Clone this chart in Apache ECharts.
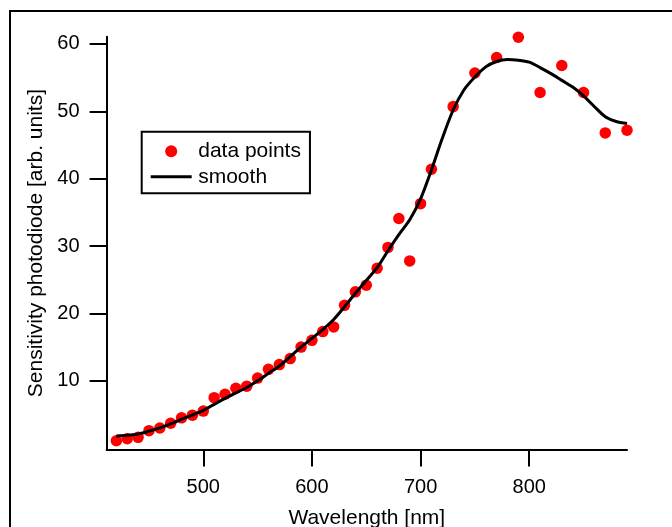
<!DOCTYPE html>
<html>
<head>
<meta charset="utf-8">
<script src="https://cdn.jsdelivr.net/npm/echarts@6/dist/echarts.min.js"></script>
<style>
html,body{margin:0;padding:0;background:#fff;}
#chart{width:672px;height:527px;}
</style>
</head>
<body>
<div id="chart"></div>
<script>
// Measured data points
const pointWavelengths = [420,430,440,450,460,470,480,490,500,510,520,530,540,550,560,570,580,590,600,610,620,630,640,650,660,670,680,690,700,710,730,750,770,790,810,830,850,870,890];
const pointValues = [1.1,1.4,1.6,2.6,3.0,3.7,4.5,4.9,5.5,7.5,8.0,8.9,9.2,10.4,11.7,12.4,13.3,15.0,16.0,17.3,18.0,21.2,23.2,24.2,26.7,29.8,34.1,27.8,36.3,41.4,50.7,55.7,58.0,61.0,52.8,56.8,52.8,46.8,47.2];

// Smooth curve
const smoothWavelengths = [420,430,440,450,460,470,480,490,500,510,520,530,540,550,560,570,580,590,600,610,620,630,640,650,660,670,680,690,700,710,720,730,740,750,760,770,780,790,800,810,820,830,840,850,860,870,880,890];
const smoothValues = [1.8,1.9,2.1,2.5,3.0,3.6,4.3,4.9,5.6,6.5,7.4,8.2,9.0,10.0,11.1,12.2,13.6,15.0,16.3,17.6,19.1,21.0,23.0,24.9,26.8,29.3,31.7,33.9,37.0,41.3,46.0,50.2,53.2,55.1,56.6,57.4,57.7,57.6,57.3,56.5,55.6,54.6,53.6,52.3,50.7,49.2,48.5,48.2];

const xTicks = [500,600,700,800];
const yTicks = [10,20,30,40,50,60];

const FONT = '"Liberation Sans", Arial, sans-serif';

const chart = echarts.init(document.getElementById('chart'), null, {renderer:'canvas'});
chart.setOption({
  animation:false,
  backgroundColor:'#fff',
  graphic:[{
    type:'rect', z:-1, silent:true,
    shape:{x:10,y:11,width:700,height:600},
    style:{fill:'none',stroke:'#000',lineWidth:2}
  }],
  grid:{left:106.6,right:45,top:36.7,bottom:77.5,containLabel:false,outerBoundsMode:'none'},
  legend:{
    orient:'vertical',
    left:141.7, top:131.7,
    padding:[9,9,6,9],
    itemGap:4.6,
    itemWidth:41, itemHeight:12,
    borderColor:'#000', borderWidth:2,
    textStyle:{fontFamily:FONT,fontSize:21,color:'#000',padding:[0,0,0,1.5]},
    data:[
      {name:'data points',icon:'circle'},
      {name:'smooth',icon:'path://M0,0 L41,0 L41,3 L0,3 Z'}
    ]
  },
  xAxis:{
    type:'value', min:411, max:890,
    name:'Wavelength [nm]', nameLocation:'middle', nameGap:58,
    nameTextStyle:{fontFamily:FONT,fontSize:21,color:'#000'},
    axisLine:{show:true,onZero:false,lineStyle:{color:'#000',width:2}},
    axisTick:{show:true,length:17,lineStyle:{color:'#000',width:2},customValues:xTicks},
    axisLabel:{fontFamily:FONT,fontSize:20,color:'#000',margin:28,customValues:xTicks},
    splitLine:{show:false}
  },
  yAxis:{
    type:'value', min:-0.2, max:61.08,
    name:'Sensitivity photodiode [arb. units]', nameLocation:'middle', nameGap:49.5,
    nameTextStyle:{fontFamily:FONT,fontSize:21,color:'#000'},
    axisLine:{show:true,onZero:false,lineStyle:{color:'#000',width:2}},
    axisTick:{show:true,length:17,lineStyle:{color:'#000',width:2},customValues:yTicks},
    axisLabel:{fontFamily:FONT,fontSize:20,color:'#000',margin:27,customValues:yTicks},
    splitLine:{show:false}
  },
  series:[
    {
      name:'data points', type:'scatter',
      data:pointWavelengths.map((w,i)=>[w,pointValues[i]]),
      symbol:'circle', symbolSize:11.5, clip:false,
      itemStyle:{color:'#ff0000',opacity:1},
      z:2
    },
    {
      name:'smooth', type:'line',
      data:smoothWavelengths.map((w,i)=>[w,smoothValues[i]]),
      smooth:0.3, symbol:'none', showSymbol:false,
      lineStyle:{color:'#000',width:3},
      itemStyle:{color:'#000'},
      z:3
    }
  ]
});
</script>
</body>
</html>
